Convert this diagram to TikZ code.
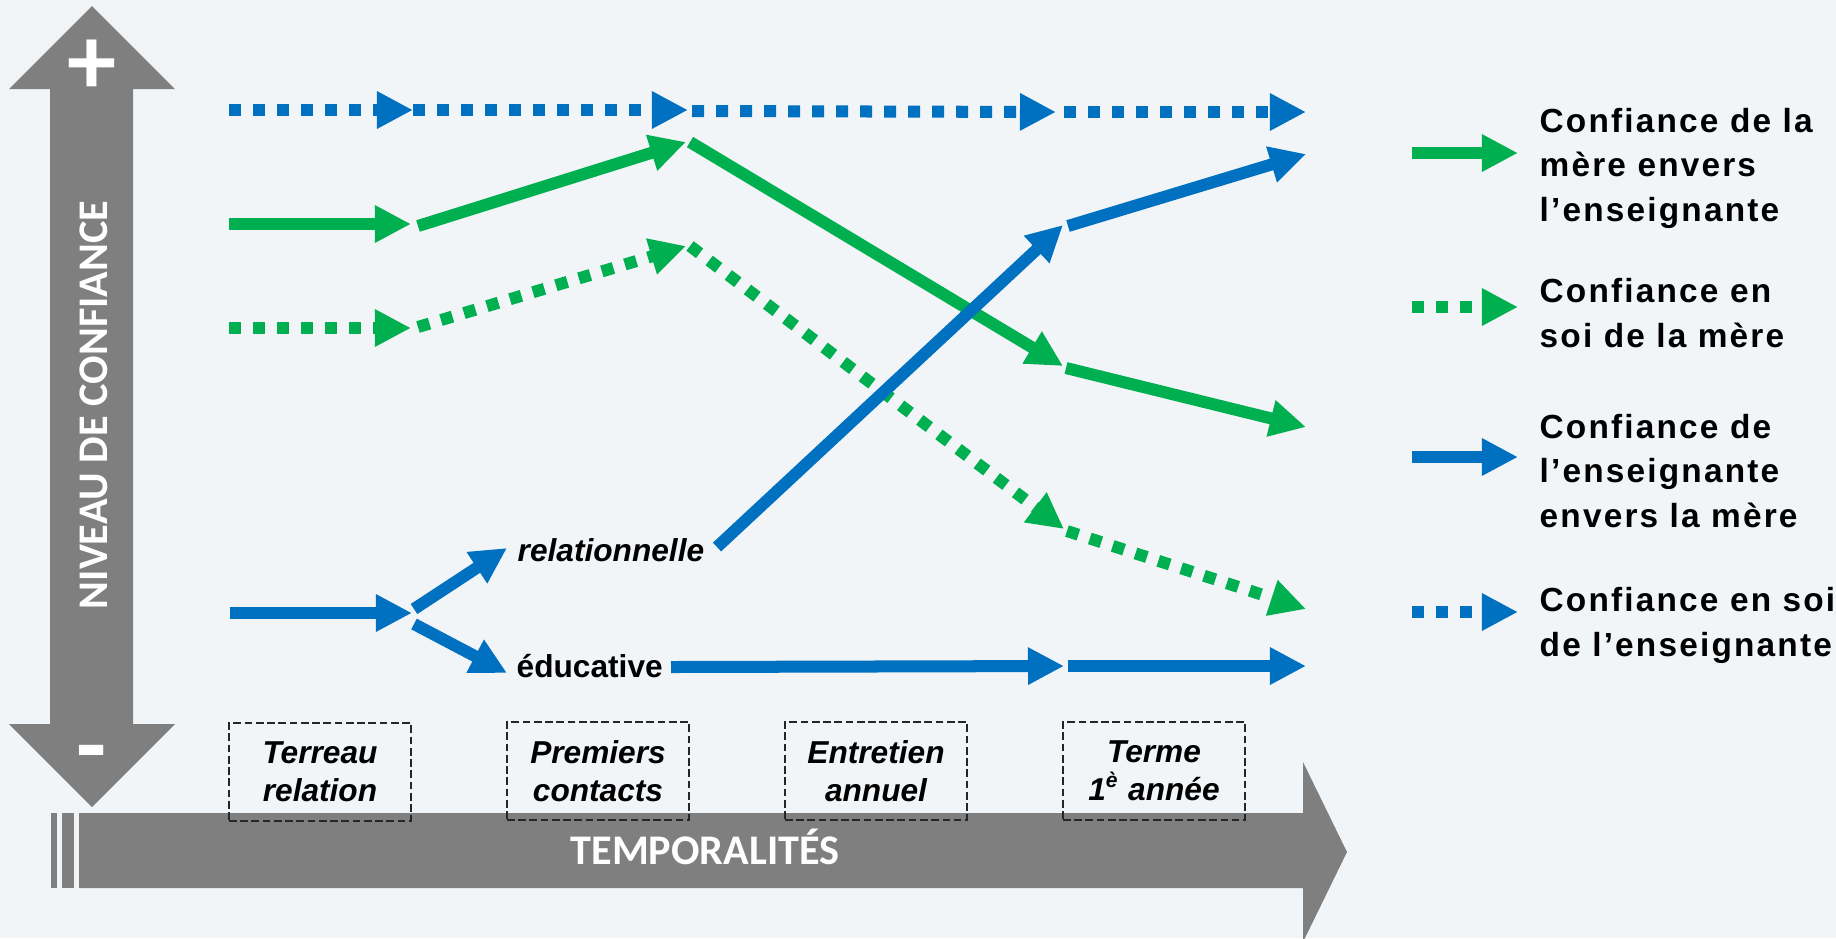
\documentclass[tikz,border=0pt]{standalone}
\usepackage{fontspec}
\setmainfont{Liberation Sans}
\newfontfamily\axisfont{Carlito}
\newfontfamily\legendfont[LetterSpace=6.5]{Liberation Sans}
\usetikzlibrary{positioning, arrows.meta}

\definecolor{fond}{HTML}{F2F5F8}
\definecolor{gris}{HTML}{7F7F7F}
\definecolor{vert}{HTML}{00B050}
\definecolor{bleu}{HTML}{0070C0}

\tikzset{
  lien/.style={line width=0.12cm, ->},
  pointille/.style={lien, dash pattern=on 0.12cm off 0.12cm},
  periode/.style={draw=black!85, line width=0.6pt, dash pattern=on 2.2pt off 1pt,
    minimum width=1.82cm, minimum height=0.98cm, inner sep=0pt, align=center,
    font=\bfseries\itshape\fontsize{9}{10.8}\selectfont},
  legende/.style={anchor=base west, inner sep=0pt, align=left,
    font=\legendfont\bfseries\fontsize{9.5}{12.65}\selectfont},
  axe/.style={white, inner sep=0pt, font=\axisfont\bfseries\fontsize{12}{14}\selectfont},
}

\begin{document}
\begin{tikzpicture}[x=0.01cm, y=-0.01cm, >={Triangle[length=0.36cm,width=0.35cm]}]
\fill[fond] (0,0) rectangle (1836,938);
\useasboundingbox (0,0) rectangle (1836,938);

% axes
\fill[gris] (92,6) -- (175,89) -- (133,89) -- (133,724) -- (175,724) -- (92,807)
  -- (9,724) -- (50,724) -- (50,89) -- (9,89) -- cycle;
\fill[gris] (79,813) -- (1303,813) -- (1303,762) -- (1347,852) -- (1303,942)
  -- (1303,888) -- (79,888) -- cycle;
\fill[gris] (51,813) rectangle (57,888);
\fill[gris] (62,813) rectangle (74,888);
\node[axe, rotate=90, anchor=base] (niveau) at (107,405) {NIVEAU DE CONFIANCE};
\node[axe, anchor=base] (temps) at (705,864) {TEMPORALITÉS};
\node[axe, font=\axisfont\bfseries\fontsize{28}{28}\selectfont] (plus) at (92,67) {+};
\node[axe, font=\axisfont\bfseries\fontsize{28}{28}\selectfont] (moins) at (92,762) {-};

% temporalites
\node[periode] (terreau) at (320,772) {Terreau\\relation};
\node[periode] (contacts) at (598,771) {Premiers\\contacts};
\node[periode] (entretien) at (876,771) {Entretien\\annuel};
\node[periode] (terme) at (1154,771) {Terme\\1\textsuperscript{è} année};

% confiance en soi de l'enseignante
\coordinate (es0) at (229,110);
\coordinate (es1) at (413,110);
\coordinate (es2) at (688,110);
\coordinate (es3) at (692,111);
\coordinate (es4) at (1056,112);
\coordinate (es5) at (1064,112);
\coordinate (es6) at (1306,112);
\draw[pointille, bleu] (es0) -- (es1);
\draw[pointille, bleu] (es1) -- (es2);
\draw[pointille, bleu] (es3) -- (es4);
\draw[pointille, bleu] (es5) -- (es6);

% confiance de la mere envers l'enseignante
\coordinate (me0) at (229,224);
\coordinate (me1) at (411,224);
\coordinate (me2) at (418,226);
\coordinate (me3) at (686,142);
\coordinate (me4) at (690,142);
\coordinate (me5) at (1063,366);
\coordinate (me6) at (1066,368);
\coordinate (me7) at (1306,427);
\draw[lien, vert] (me0) -- (me1);
\draw[lien, vert] (me2) -- (me3);
\draw[lien, vert] (me4) -- (me5);
\draw[lien, vert] (me6) -- (me7);

% confiance en soi de la mere
\coordinate (ms0) at (229,328);
\coordinate (ms1) at (411,328);
\coordinate (ms2) at (418,327);
\coordinate (ms3) at (686,246);
\coordinate (ms4) at (690,246);
\coordinate (ms5) at (1064,529);
\coordinate (ms6) at (1067,531);
\coordinate (ms7) at (1306,609);
\draw[pointille, vert] (ms0) -- (ms1);
\draw[pointille, vert] (ms2) -- (ms3);
\draw[pointille, vert] (ms4) -- (ms5);
\draw[pointille, vert] (ms6) -- (ms7);

% confiance de l'enseignante envers la mere
\node[anchor=base west, inner sep=0pt, font=\bfseries\itshape\fontsize{9}{10.8}\selectfont] (rel) at (517,561) {relationnelle};
\node[anchor=base west, inner sep=0pt, font=\bfseries\fontsize{9}{10.8}\selectfont] (edu) at (516,677) {éducative};
\coordinate (em0) at (230,613);
\coordinate (em1) at (412,613);
\coordinate (em2) at (414,609);
\coordinate (em3) at (507,548);
\coordinate (em4) at (414,624);
\coordinate (em5) at (507,673);
\coordinate (em6) at (717,547);
\coordinate (em7) at (1063,225);
\coordinate (em8) at (1068,226);
\coordinate (em9) at (1306,154);
\coordinate (em10) at (671,667);
\coordinate (em11) at (1064,666);
\coordinate (em12) at (1068,666);
\coordinate (em13) at (1306,666);
\draw[lien, bleu] (em0) -- (em1);
\draw[lien, bleu] (em2) -- (em3);
\draw[lien, bleu] (em4) -- (em5);
\draw[lien, bleu] (em6) -- (em7);
\draw[lien, bleu] (em8) -- (em9);
\draw[lien, bleu] (em10) -- (em11);
\draw[lien, bleu] (em12) -- (em13);

% legende
\coordinate (lg1a) at (1412,153);
\coordinate (lg1b) at (1518,153);
\coordinate (lg2a) at (1412,307);
\coordinate (lg2b) at (1518,307);
\coordinate (lg3a) at (1412,457);
\coordinate (lg3b) at (1518,457);
\coordinate (lg4a) at (1412,612);
\coordinate (lg4b) at (1518,612);
\draw[lien, vert] (lg1a) -- (lg1b);
\draw[pointille, vert] (lg2a) -- (lg2b);
\draw[lien, bleu] (lg3a) -- (lg3b);
\draw[pointille, bleu] (lg4a) -- (lg4b);
\node[legende] (leg1) at (1539,221) {Confiance de la\\mère envers\\l’enseignante};
\node[legende] (leg2) at (1539,347) {Confiance en\\soi de la mère};
\node[legende] (leg3) at (1539,527) {Confiance de\\l’enseignante\\envers la mère};
\node[legende] (leg4) at (1539,656) {Confiance en soi\\de l’enseignante};
\end{tikzpicture}
\end{document}
